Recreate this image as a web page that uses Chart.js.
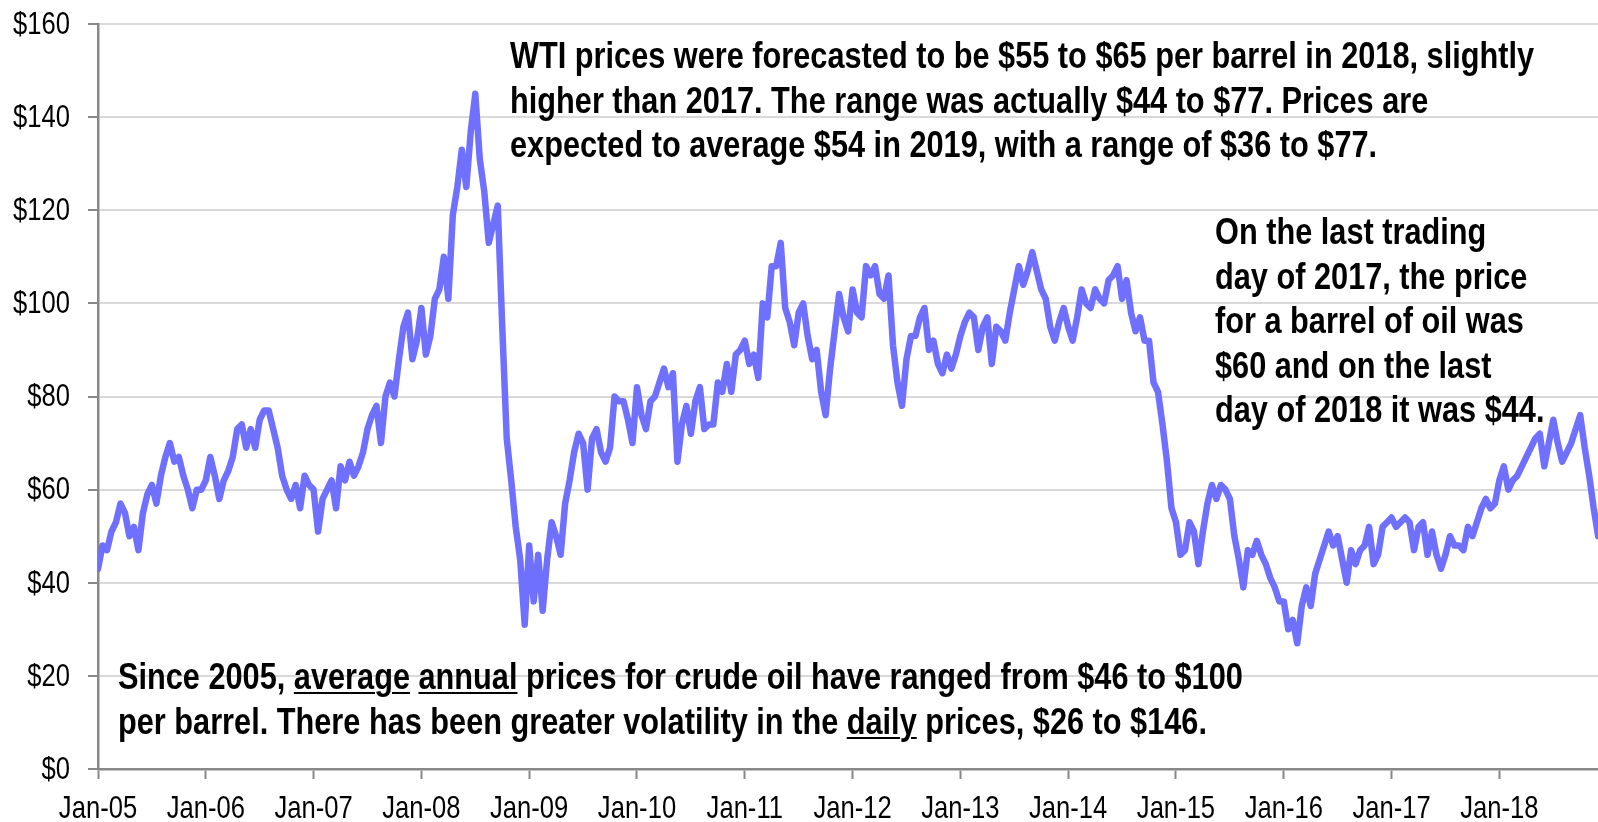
<!DOCTYPE html>
<html>
<head>
<meta charset="utf-8">
<script src="https://cdn.jsdelivr.net/npm/chart.js@4"></script>
<style>
  html, body { margin: 0; padding: 0; background: #fff; }
  #wrap { position: relative; width: 1598px; height: 822px; overflow: hidden; }
  /* the original uses a narrow face; squeeze Liberation Sans to match */
  .note {
    position: absolute; white-space: nowrap; color: #000;
    font-family: 'Liberation Sans', Arial, sans-serif;
    font-weight: bold; font-size: 37px; line-height: 44.5px;
    transform: scaleX(0.83); transform-origin: 0 0;
  }
  .note u { text-decoration-thickness: 2px; text-underline-offset: 3px; }
</style>
</head>
<body>
<div id="wrap">
  <canvas id="wti" width="1598" height="822"></canvas>
  <div class="note" style="left:510px;top:34px">WTI prices were forecasted to be $55 to $65 per barrel in 2018, slightly<br>higher than 2017. The range was actually $44 to $77. Prices are<br>expected to average $54 in 2019, with a range of $36 to $77.</div>
  <div class="note" style="left:1215px;top:210px">On the last trading<br>day of 2017, the price<br>for a barrel of oil was<br>$60 and on the last<br>day of 2018 it was $44.</div>
  <div class="note" style="left:118px;top:655px">Since 2005, <u>average</u> <u>annual</u> prices for crude oil have ranged from $46 to $100<br>per barrel. There has been greater volatility in the <u>daily</u> prices, $26 to $146.</div>
</div>
<script>
// WTI spot price, $/barrel, read twice a month (1st and 16th) off the chart
const wti2005 = [43, 48, 47, 51, 53, 57, 55, 50, 52, 47, 55, 59, 61, 57, 63, 67, 70, 66, 67, 63, 60, 56, 60, 60];
const wti2006 = [62, 67, 63, 58, 62, 64, 67, 73, 74, 69, 73, 69, 75, 77, 77, 73, 69, 63, 60, 58, 61, 56, 63, 61];
const wti2007 = [60, 51, 58, 60, 62, 56, 65, 62, 66, 63, 65, 68, 73, 76, 78, 70, 80, 83, 80, 88, 95, 98, 88, 92];
const wti2008 = [99, 89, 93, 101, 103, 110, 101, 119, 125, 133, 125, 137, 145, 131, 124, 113, 117, 121, 95, 71, 62, 52, 45, 31];
const wti2009 = [48, 36, 46, 34, 45, 53, 50, 46, 57, 62, 68, 72, 70, 60, 71, 73, 68, 66, 69, 80, 79, 79, 75, 70];
const wti2010 = [82, 76, 73, 79, 80, 83, 86, 82, 85, 66, 74, 78, 72, 79, 82, 73, 74, 74, 83, 81, 87, 81, 89, 90];
const wti2011 = [92, 87, 89, 84, 100, 97, 108, 108, 113, 99, 96, 91, 98, 100, 93, 88, 90, 81, 76, 86, 94, 102, 97, 94];
const wti2012 = [103, 98, 97, 108, 106, 108, 102, 101, 106, 91, 83, 78, 88, 93, 93, 97, 99, 90, 92, 87, 85, 89, 86, 89];
const wti2013 = [93, 96, 98, 97, 90, 95, 97, 87, 95, 94, 92, 98, 103, 108, 104, 107, 111, 107, 103, 101, 95, 92, 96, 99];
const wti2014 = [95, 92, 97, 103, 100, 99, 103, 101, 100, 105, 106, 108, 101, 105, 98, 94, 97, 92, 92, 83, 81, 74, 66, 56];
const wti2015 = [53, 46, 47, 53, 51, 44, 51, 57, 61, 58, 61, 60, 58, 50, 45, 39, 47, 46, 49, 46, 44, 41, 39, 36];
const wti2016 = [36, 30, 32, 27, 35, 39, 35, 42, 45, 48, 51, 48, 50, 45, 40, 47, 44, 47, 48, 52, 44, 46, 52, 53];
const wti2017 = [54, 52, 53, 54, 53, 47, 52, 53, 46, 51, 46, 43, 46, 50, 48, 48, 47, 52, 50, 53, 56, 58, 56, 57];
const wti2018 = [62, 65, 60, 62, 63, 65, 67, 69, 71, 72, 65, 70, 75, 70, 66, 68, 70, 73, 76, 69, 63, 56, 50, 46];

const tickYears  = [2005, 2006, 2007, 2008, 2009, 2010, 2011, 2012, 2013, 2014, 2015, 2016, 2017, 2018];
const tickLabels = ['Jan-05', 'Jan-06', 'Jan-07', 'Jan-08', 'Jan-09', 'Jan-10', 'Jan-11',
                    'Jan-12', 'Jan-13', 'Jan-14', 'Jan-15', 'Jan-16', 'Jan-17', 'Jan-18'];

const byYear = [wti2005, wti2006, wti2007, wti2008, wti2009, wti2010, wti2011,
                wti2012, wti2013, wti2014, wti2015, wti2016, wti2017, wti2018];
const points = [];
byYear.forEach((vals, k) => {
  vals.forEach((v, i) => points.push({ x: 2005 + k + i / 24, y: v }));
});

const AXIS = '#888888';
const SQUEEZE = 0.8;

// tick labels drawn by hand so they can be squeezed like the narrow original
const narrowLabels = {
  id: 'narrowLabels',
  afterDraw(chart) {
    const { ctx, scales: { x, y } } = chart;
    ctx.save();
    ctx.font = "32px 'Liberation Sans', Arial, sans-serif";
    ctx.fillStyle = '#000';
    ctx.textBaseline = 'middle';
    ctx.textAlign = 'right';
    y.ticks.forEach(t => {
      ctx.save();
      ctx.translate(y.right - 28, y.getPixelForValue(t.value) + 1);
      ctx.scale(SQUEEZE, 1);
      ctx.fillText('$' + t.value, 0, 0);
      ctx.restore();
    });
    ctx.textAlign = 'center';
    x.ticks.forEach((t, i) => {
      ctx.save();
      ctx.translate(x.getPixelForValue(t.value), x.top + 40);
      ctx.scale(SQUEEZE, 1);
      ctx.fillText(tickLabels[i], 0, 0);
      ctx.restore();
    });
    ctx.restore();
  },
};

new Chart(document.getElementById('wti'), {
  type: 'line',
  data: {
    datasets: [{
      data: points,
      borderColor: '#7070ff', borderWidth: 6.5,
      pointRadius: 0, tension: 0, fill: false,
      borderJoinStyle: 'round', borderCapStyle: 'round',
    }],
  },
  options: {
    responsive: false, animation: false, devicePixelRatio: 1,
    layout: { padding: { top: 24, right: 0, left: 0, bottom: 0 } },
    plugins: { legend: { display: false }, tooltip: { enabled: false } },
    scales: {
      x: {
        type: 'linear', min: 2005, max: 2018.915,
        afterBuildTicks: s => { s.ticks = tickYears.map(v => ({ value: v })); },
        afterFit: s => { s.height = 53; },
        ticks: { display: false },
        grid: { drawOnChartArea: false, tickLength: 10, tickColor: AXIS, tickWidth: 2 },
        border: { color: AXIS, width: 2.5 },
      },
      y: {
        min: 0, max: 160,
        afterFit: s => { s.width = 98; },
        ticks: { stepSize: 20, display: false },
        grid: { color: '#d9d9d9', lineWidth: 2, tickLength: 10, tickColor: AXIS, tickWidth: 2 },
        border: { color: AXIS, width: 2.5 },
      },
    },
  },
  plugins: [narrowLabels],
});
</script>
</body>
</html>
